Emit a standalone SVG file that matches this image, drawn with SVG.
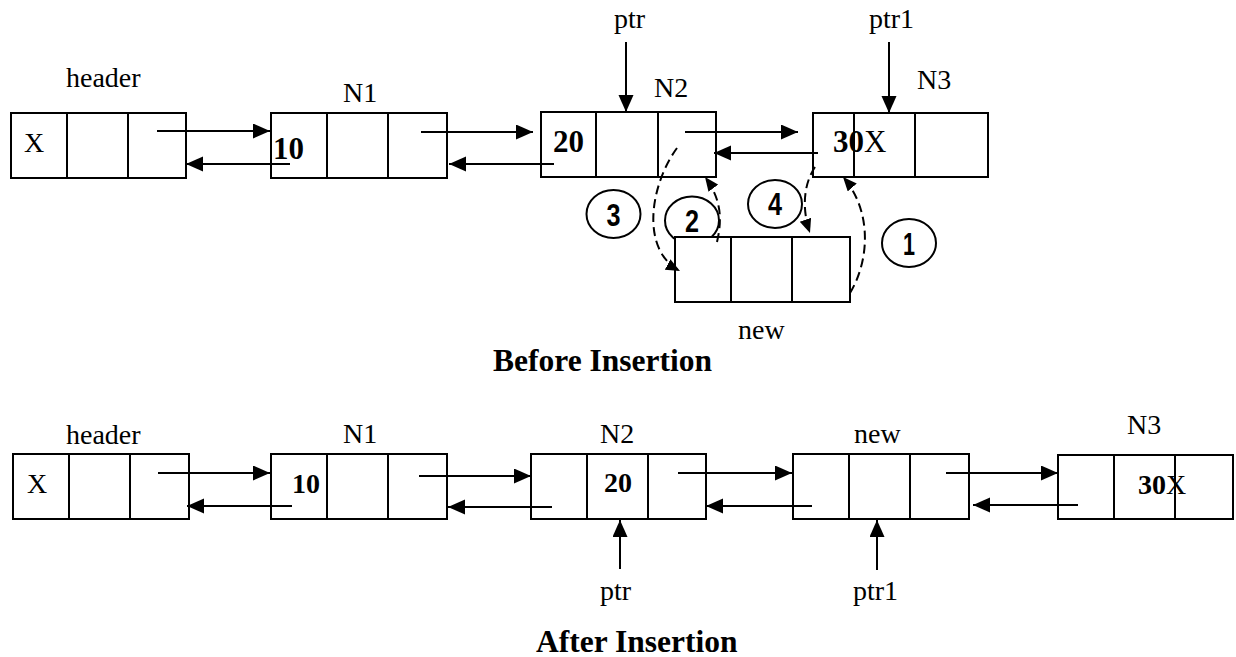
<svg xmlns="http://www.w3.org/2000/svg" width="1236" height="657" viewBox="0 0 1236 657">
<style>
.box{fill:#fff;stroke:#000;stroke-width:2}
.div{stroke:#000;stroke-width:2}
.lbl{font-family:"Liberation Serif","Times New Roman",serif;font-size:28px;fill:#000}
.val{font-family:"Liberation Serif","Times New Roman",serif;font-weight:bold;fill:#000}
.ttl{font-family:"Liberation Serif","Times New Roman",serif;font-weight:bold;font-size:31.5px;fill:#000}
.arr{stroke:#000;stroke-width:2;fill:none;marker-end:url(#ah)}
.dash{stroke:#000;stroke-width:2;fill:none;stroke-dasharray:9 5;marker-end:url(#ahs)}
.circ{fill:#fff;stroke:#000;stroke-width:2}
.num{font-family:"Liberation Sans",Arial,sans-serif;font-weight:bold;font-size:32px;fill:#000}
</style>
<defs>
<marker id="ah" markerUnits="userSpaceOnUse" markerWidth="18" markerHeight="16" refX="17" refY="7.5" orient="auto">
<path d="M0,0 L17,7.5 L0,15 z" fill="#000"/>
</marker>
<marker id="ahs" markerUnits="userSpaceOnUse" markerWidth="15" markerHeight="13" refX="14" refY="6" orient="auto">
<path d="M0,0 L14,6 L0,12 z" fill="#000"/>
</marker>
</defs>

<g id="circles">
<ellipse class="circ" cx="613.5" cy="214" rx="27" ry="24"/>
<text class="num" x="613.5" y="226" text-anchor="middle" textLength="14" lengthAdjust="spacingAndGlyphs">3</text>
<ellipse class="circ" cx="692" cy="220.5" rx="27" ry="24"/>
<text class="num" x="692" y="232" text-anchor="middle" textLength="14" lengthAdjust="spacingAndGlyphs">2</text>
<ellipse class="circ" cx="775" cy="204" rx="27" ry="24"/>
<text class="num" x="775" y="215" text-anchor="middle" textLength="14" lengthAdjust="spacingAndGlyphs">4</text>
<ellipse class="circ" cx="909" cy="243" rx="27" ry="24"/>
<text class="num" x="909" y="255" text-anchor="middle" textLength="12" lengthAdjust="spacingAndGlyphs">1</text>
</g>

<!-- Before insertion -->
<g id="b-header">
<rect class="box" x="11" y="113" width="175" height="65"/>
<line class="div" x1="67" y1="113" x2="67" y2="178"/>
<line class="div" x1="128" y1="113" x2="128" y2="178"/>
<text class="lbl" x="66" y="87">header</text>
<text class="lbl" x="24" y="152">X</text>
</g>
<g id="b-n1">
<rect class="box" x="271" y="113" width="176" height="65"/>
<line class="div" x1="327" y1="113" x2="327" y2="178"/>
<line class="div" x1="388" y1="113" x2="388" y2="178"/>
<text class="lbl" x="343" y="102">N1</text>
<text class="val" x="273" y="159" font-size="31">10</text>
</g>
<g id="b-n2">
<rect class="box" x="541" y="112" width="175" height="65"/>
<line class="div" x1="596" y1="112" x2="596" y2="177"/>
<line class="div" x1="658" y1="112" x2="658" y2="177"/>
<text class="lbl" x="654" y="97">N2</text>
<text class="val" x="553" y="152" font-size="31">20</text>
</g>
<g id="b-n3">
<rect class="box" x="813" y="113" width="175" height="64"/>
<line class="div" x1="854" y1="113" x2="854" y2="177"/>
<line class="div" x1="915" y1="113" x2="915" y2="177"/>
<text class="lbl" x="917" y="89">N3</text>
<text class="val" x="833" y="152" font-size="31">30<tspan font-weight="normal">X</tspan></text>
</g>
<g id="b-new">
<rect class="box" x="675" y="237" width="175" height="65"/>
<line class="div" x1="731" y1="237" x2="731" y2="302"/>
<line class="div" x1="792" y1="237" x2="792" y2="302"/>
<text class="lbl" x="738" y="339">new</text>
</g>
<g id="b-ptr"><text class="lbl" x="614" y="28">ptr</text></g>
<g id="b-ptr1"><text class="lbl" x="869" y="28">ptr1</text></g>
<text class="ttl" x="493" y="371">Before Insertion</text>

<!-- After insertion -->
<g id="a-header">
<rect class="box" x="13" y="454" width="176" height="65"/>
<line class="div" x1="69" y1="454" x2="69" y2="519"/>
<line class="div" x1="130" y1="454" x2="130" y2="519"/>
<text class="lbl" x="66" y="444">header</text>
<text class="lbl" x="27" y="493">X</text>
</g>
<g id="a-n1">
<rect class="box" x="271" y="454" width="176" height="65"/>
<line class="div" x1="327" y1="454" x2="327" y2="519"/>
<line class="div" x1="388" y1="454" x2="388" y2="519"/>
<text class="lbl" x="343" y="443">N1</text>
<text class="val" x="292" y="493" font-size="28">10</text>
</g>
<g id="a-n2">
<rect class="box" x="531" y="454" width="175" height="65"/>
<line class="div" x1="587" y1="454" x2="587" y2="519"/>
<line class="div" x1="648" y1="454" x2="648" y2="519"/>
<text class="lbl" x="600" y="443">N2</text>
<text class="val" x="604" y="492" font-size="28">20</text>
</g>
<g id="a-new">
<rect class="box" x="793" y="454" width="176" height="65"/>
<line class="div" x1="849" y1="454" x2="849" y2="519"/>
<line class="div" x1="910" y1="454" x2="910" y2="519"/>
<text class="lbl" x="854" y="443">new</text>
</g>
<g id="a-n3">
<rect class="box" x="1058" y="455" width="175" height="64"/>
<line class="div" x1="1114" y1="455" x2="1114" y2="519"/>
<line class="div" x1="1175" y1="455" x2="1175" y2="519"/>
<text class="lbl" x="1127" y="434">N3</text>
<text class="val" x="1138" y="494" font-size="28">30<tspan font-weight="normal">X</tspan></text>
</g>
<g id="a-ptr"><text class="lbl" x="600" y="600">ptr</text></g>
<g id="a-ptr1"><text class="lbl" x="853" y="600">ptr1</text></g>
<text class="ttl" x="536" y="652">After Insertion</text>

<g id="connectors">
<!-- top row -->
<line class="arr" x1="157" y1="131" x2="270" y2="131"/>
<line class="arr" x1="290" y1="164" x2="186" y2="164"/>
<line class="arr" x1="421" y1="132" x2="533" y2="132"/>
<line class="arr" x1="554" y1="164" x2="449" y2="164"/>
<line class="arr" x1="685" y1="132" x2="798" y2="132"/>
<line class="arr" x1="818" y1="153" x2="714" y2="153"/>
<line class="arr" x1="626" y1="42" x2="626" y2="112"/>
<line class="arr" x1="889" y1="42" x2="889" y2="113"/>
<path class="dash" d="M677,148 C650,185 640,250 680,271"/>
<path class="dash" d="M717,242 C722,220 722,200 705,177"/>
<path class="dash" d="M815,167 C803,185 802,210 810,233"/>
<path class="dash" d="M850,293 C870,260 872,210 843,177"/>
<!-- bottom row -->
<line class="arr" x1="158" y1="473" x2="270" y2="473"/>
<line class="arr" x1="292" y1="506" x2="187" y2="506"/>
<line class="arr" x1="419" y1="476" x2="531" y2="476"/>
<line class="arr" x1="552" y1="507" x2="448" y2="507"/>
<line class="arr" x1="678" y1="473" x2="792" y2="473"/>
<line class="arr" x1="812" y1="506" x2="706" y2="506"/>
<line class="arr" x1="946" y1="473" x2="1058" y2="473"/>
<line class="arr" x1="1078" y1="505" x2="973" y2="505"/>
<line class="arr" x1="620" y1="569" x2="620" y2="520"/>
<line class="arr" x1="877" y1="570" x2="877" y2="520"/>
</g>
</svg>
